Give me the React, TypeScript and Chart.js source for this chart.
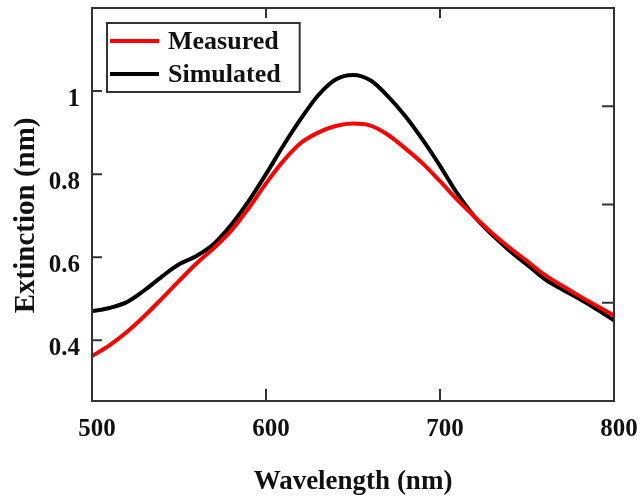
import React, { useEffect, useRef } from "react";
import { Chart, registerables } from "chart.js";

Chart.register(...registerables);

const wavelengths = [500, 510, 520, 530, 540, 550, 560, 570, 580, 590, 600, 610, 620, 630, 640, 650, 660, 670, 680, 690, 700, 710, 720, 730, 740, 750, 760, 770, 780, 790, 800];
const measured = [0.362, 0.388, 0.42, 0.458, 0.5, 0.543, 0.585, 0.622, 0.664, 0.718, 0.778, 0.832, 0.875, 0.9, 0.916, 0.922, 0.917, 0.895, 0.862, 0.826, 0.783, 0.738, 0.697, 0.658, 0.623, 0.591, 0.558, 0.532, 0.507, 0.483, 0.46];
const simulated = [0.47, 0.478, 0.492, 0.52, 0.553, 0.583, 0.603, 0.632, 0.678, 0.735, 0.8, 0.869, 0.933, 0.99, 1.028, 1.039, 1.026, 0.988, 0.94, 0.883, 0.82, 0.753, 0.697, 0.654, 0.616, 0.582, 0.548, 0.523, 0.5, 0.475, 0.448];
const seriesNames = ["Measured", "Simulated"];
const seriesColors = ["#ff0000", "#000000"];
const xTicks = [500, 600, 700, 800];
const yTicks = [0.4, 0.6, 0.8, 1];
const rightTicks = [0, 1, 2, 3, 4];
const xTitle = "Wavelength (nm)";
const yTitle = "Extinction (nm)";

const FONT = "'Liberation Serif', 'Times New Roman', serif";
const TEXT = "#111111";
const FRAME = "#333333";

const zeroPadding = (s: any) => {
  s.paddingTop = 0;
  s.paddingBottom = 0;
  s.paddingLeft = 0;
  s.paddingRight = 0;
};

const framePlugin = {
  id: "frameAndTicks",
  afterDraw(chart: any) {
    const { ctx, chartArea: ca, scales } = chart;
    ctx.save();
    ctx.strokeStyle = FRAME;
    ctx.lineWidth = 2;
    ctx.strokeRect(ca.left, ca.top, ca.right - ca.left, ca.bottom - ca.top);
    const tl = 10;
    ctx.beginPath();
    scales.x.ticks.forEach((t: any) => {
      const px = scales.x.getPixelForValue(t.value);
      ctx.moveTo(px, ca.bottom);
      ctx.lineTo(px, ca.bottom - tl - 2);
      ctx.moveTo(px, ca.top);
      ctx.lineTo(px, ca.top + tl);
    });
    scales.y.ticks.forEach((t: any) => {
      const py = scales.y.getPixelForValue(t.value);
      ctx.moveTo(ca.left, py);
      ctx.lineTo(ca.left + tl, py);
    });
    scales.y2.ticks.forEach((t: any) => {
      const py = scales.y2.getPixelForValue(t.value);
      ctx.moveTo(ca.right, py);
      ctx.lineTo(ca.right - tl - 2, py);
    });
    ctx.stroke();

    // legend inside chart area
    const datasets = chart.data.datasets;
    ctx.font = `bold 26px ${FONT}`;
    const lineLen = 49;
    const gap = 9;
    const rowH = 33;
    let maxW = 0;
    datasets.forEach((d: any) => {
      maxW = Math.max(maxW, ctx.measureText(d.label).width);
    });
    const x0 = ca.left + 15;
    const y0 = ca.top + 15;
    const w = 3 + lineLen + gap + maxW + 19;
    const h = rowH * datasets.length + 3;
    ctx.fillStyle = "#ffffff";
    ctx.fillRect(x0, y0, w, h);
    ctx.lineWidth = 2;
    ctx.strokeStyle = FRAME;
    ctx.strokeRect(x0, y0, w, h);
    datasets.forEach((d: any, i: number) => {
      const cy = y0 + 18 + i * rowH;
      ctx.strokeStyle = d.borderColor;
      ctx.lineWidth = 4;
      ctx.beginPath();
      ctx.moveTo(x0 + 3, cy);
      ctx.lineTo(x0 + 3 + lineLen, cy);
      ctx.stroke();
      ctx.fillStyle = TEXT;
      ctx.textBaseline = "middle";
      ctx.textAlign = "left";
      ctx.fillText(d.label, x0 + 3 + lineLen + gap, cy + 1);
    });
    ctx.restore();
  },
};

export default function App() {
  const ref = useRef<HTMLCanvasElement | null>(null);

  useEffect(() => {
    if (!ref.current) return;
    const tickFont = { family: FONT, size: 25, weight: "bold" as const };
    const titleFont = { family: FONT, size: 27, weight: "bold" as const };
    const yTitleFont = { family: FONT, size: 29, weight: "bold" as const };
    const chart = new Chart(ref.current, {
      type: "line",
      data: {
        labels: wavelengths,
        datasets: [
          {
            label: seriesNames[0],
            data: wavelengths.map((x, i) => ({ x, y: measured[i] })),
            borderColor: seriesColors[0],
            backgroundColor: seriesColors[0],
            borderWidth: 4,
            pointRadius: 0,
            cubicInterpolationMode: "monotone",
          },
          {
            label: seriesNames[1],
            data: wavelengths.map((x, i) => ({ x, y: simulated[i] })),
            borderColor: seriesColors[1],
            backgroundColor: seriesColors[1],
            borderWidth: 4,
            pointRadius: 0,
            cubicInterpolationMode: "monotone",
          },
        ],
      },
      options: {
        animation: false,
        responsive: false,
        devicePixelRatio: 1,
        layout: { padding: { top: 8, right: 26, left: 0, bottom: 0 } },
        plugins: { legend: { display: false }, tooltip: { enabled: false } },
        scales: {
          x: {
            type: "linear",
            min: 500,
            max: 800,
            afterBuildTicks: (s: any) => {
              s.ticks = xTicks.map((v) => ({ value: v }));
            },
            afterFit: (s: any) => {
              s.height = 97;
              zeroPadding(s);
            },
            grid: { display: false },
            border: { display: false },
            ticks: { font: tickFont, color: TEXT, padding: 6, labelOffset: 5, maxRotation: 0, autoSkip: false },
            title: { display: true, text: xTitle, font: titleFont, color: TEXT, padding: { top: 0, bottom: 0 } },
          },
          y: {
            type: "linear",
            position: "left",
            min: 0.254,
            max: 1.2,
            afterBuildTicks: (s: any) => {
              s.ticks = yTicks.map((v) => ({ value: v }));
            },
            afterFit: (s: any) => {
              s.width = 92;
              zeroPadding(s);
            },
            grid: { display: false },
            border: { display: false },
            ticks: { font: tickFont, color: TEXT, padding: 4, labelOffset: 8, callback: (v: any) => `${v}` },
            title: { display: true, text: yTitle + "   ", font: yTitleFont, color: TEXT, padding: { top: 9, bottom: 0 } },
          },
          y2: {
            type: "linear",
            position: "right",
            min: 0,
            max: 4,
            afterBuildTicks: (s: any) => {
              s.ticks = rightTicks.map((v) => ({ value: v }));
            },
            afterFit: (s: any) => {
              s.width = 0;
              zeroPadding(s);
            },
            grid: { display: false },
            border: { display: false },
            ticks: { display: false },
          },
        },
      },
      plugins: [framePlugin],
    });
    return () => chart.destroy();
  }, []);

  return (
    <div style={{ position: "fixed", left: 0, top: 0, width: 640, height: 498, background: "#ffffff" }}>
      <canvas ref={ref} width={640} height={498} style={{ display: "block" }} />
    </div>
  );
}
